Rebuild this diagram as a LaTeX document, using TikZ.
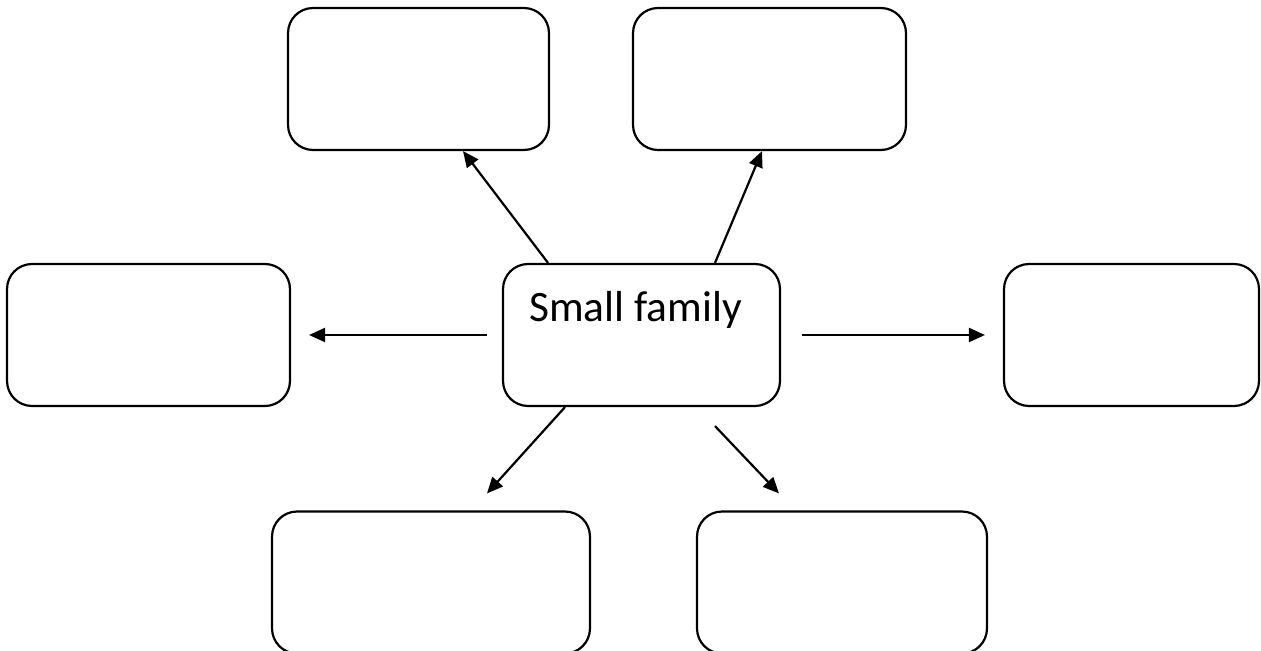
\documentclass[tikz,border=0pt]{standalone}
\usepackage{fontspec}
\setmainfont{Carlito}
\usepackage{tikz}
\usetikzlibrary{positioning,calc,arrows.meta}

\begin{document}
\begin{tikzpicture}[x=0.02cm, y=-0.02cm,
    box/.style={draw, line width=1.25pt, rounded corners=0.5cm, minimum height=2.84cm, inner sep=0pt},
    arr/.style={line width=1.25pt, -{Triangle[length=0.32cm, width=0.28cm]}}]
    \useasboundingbox (0,0) rectangle (1261,651);

    % Centre
    \node[box, minimum width=5.54cm, font=\fontsize{24.7}{29}\selectfont,
          text height=0.6cm, text depth=1.14cm] (Center) at (641.5,335) {Small family\kern0.24cm};

    % Top row
    \node[box, minimum width=5.22cm] (TopL) at (418.5,79) {};
    \node[box, minimum width=5.46cm] (TopR) at (769.5,79) {};

    % Middle row
    \node[box, minimum width=5.66cm] (Left) at (148.5,335) {};
    \node[box, minimum width=5.10cm] (Right) at (1131.5,335) {};

    % Bottom row
    \node[box, minimum width=6.36cm] (BotL) at (431,582.5) {};
    \node[box, minimum width=5.80cm] (BotR) at (842,582.5) {};

    % Arrows
    \draw[arr] ([xshift=-1.87cm]Center.north) -- ([xshift=0.89cm]TopL.south);
    \draw[arr] ([xshift=1.47cm]Center.north) -- ([xshift=-0.15cm]TopR.south);
    \draw[arr, shorten <=0.3cm, shorten >=0.36cm] (Center.west) -- (Left.east);
    \draw[arr, shorten <=0.42cm, shorten >=0.36cm] (Center.east) -- (Right.west);
    \draw[arr] ([xshift=-1.53cm]Center.south) -- ([xshift=1.12cm, yshift=0.34cm]BotL.north);
    \draw[arr] ([xshift=1.47cm, yshift=-0.38cm]Center.south) -- ([xshift=-1.26cm, yshift=0.34cm]BotR.north);
\end{tikzpicture}
\end{document}
